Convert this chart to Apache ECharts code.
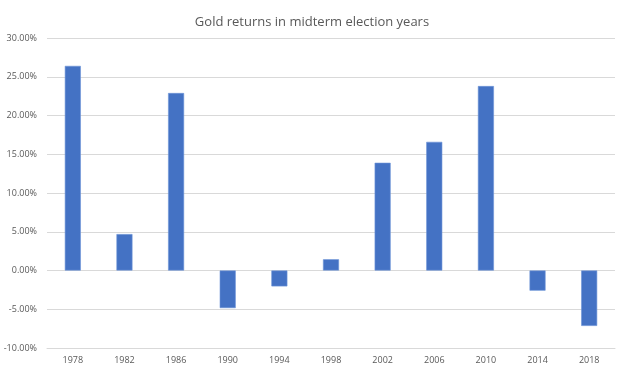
<!DOCTYPE html>
<html><head><meta charset="utf-8">
<script src="https://cdn.jsdelivr.net/npm/echarts@6/dist/echarts.min.js"></script>
<style>html,body{margin:0;padding:0;background:#fff}#c{width:624px;height:372px}</style>
</head><body><div id="c"></div>
<script>
const categories = ['1978','1982','1986','1990','1994','1998','2002','2006','2010','2014','2018'];
const returns = [26.4, 4.7, 22.9, -4.85, -2.05, 1.45, 13.9, 16.6, 23.8, -2.6, -7.15];
const titleText = 'Gold returns in midterm election years';
const yTicks = { min: -10, max: 30, interval: 5 };

const chart = echarts.init(document.getElementById('c'));
chart.setOption({
  animation: false,
  title: { text: titleText, left: 'center', top: 11,
    textStyle: { fontFamily: 'Open Sans', fontSize: 13, fontWeight: 'normal', color: '#595959' } },
  grid: { left: 47, right: 9, top: 38, bottom: 24 },
  xAxis: { type: 'category', data: categories,
    axisLine: { onZero: false, lineStyle: { color: '#d9d9d9' } },
    axisTick: { show: false },
    axisLabel: { color: '#595959', fontFamily: 'Open Sans', fontSize: 9, margin: 8 } },
  yAxis: { type: 'value', min: yTicks.min, max: yTicks.max, interval: yTicks.interval,
    axisLine: { show: false }, axisTick: { show: false },
    splitLine: { lineStyle: { color: '#d9d9d9', width: 1 } },
    axisLabel: { color: '#595959', fontFamily: 'Open Sans', fontSize: 9, margin: 10,
      formatter: v => v.toFixed(2) + '%' } },
  series: [{ type: 'bar', data: returns, barWidth: '31%',
    itemStyle: { color: '#4472C4', borderColor: '#6b93d6', borderWidth: 0.6 } }]
});
</script></body></html>
